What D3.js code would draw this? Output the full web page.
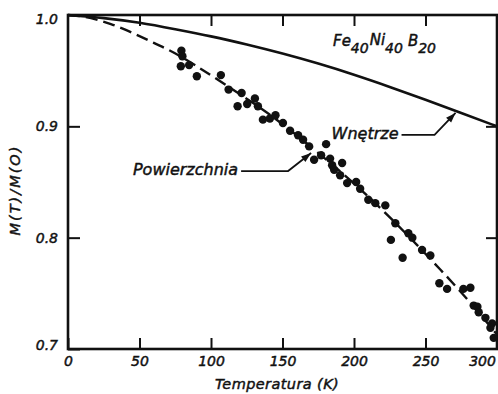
<!DOCTYPE html>
<html>
<head>
<meta charset="utf-8">
<script src="https://cdn.jsdelivr.net/npm/d3@7"></script>
<style>
  body { margin: 0; background: #fff; }
  text { font-family: "DejaVu Sans", sans-serif; font-style: oblique; fill: #111; stroke: #111; stroke-width: 0.45px; }
</style>
</head>
<body>
<div class="chart-container"></div>
<script>
const pointsT = [79.3, 80.0, 78.9, 84.7, 90.1, 106.9, 112.3, 121.4, 118.6, 125.3,
  130.7, 132.8, 136.3, 141.2, 145.1, 150.3, 155.3, 160.9, 164.4, 168.6,
  180.5, 172.1, 177.0, 183.3, 184.7, 191.7, 186.1, 190.3, 195.2, 201.5,
  204.3, 210.0, 214.9, 221.9, 228.9, 225.8, 238.0, 240.8, 247.6, 253.4,
  234.0, 259.7, 265.1, 276.5, 281.4, 283.7, 286.3, 287.2, 291.9, 296.6,
  295.4, 297.7];
const pointsM = [0.968, 0.963, 0.954, 0.955, 0.945, 0.946, 0.933, 0.930, 0.918, 0.920,
  0.925, 0.918, 0.906, 0.907, 0.910, 0.903, 0.896, 0.892, 0.888, 0.882,
  0.884, 0.870, 0.874, 0.871, 0.865, 0.867, 0.861, 0.856, 0.849, 0.850,
  0.844, 0.834, 0.831, 0.829, 0.813, 0.798, 0.804, 0.800, 0.789, 0.784,
  0.782, 0.759, 0.754, 0.754, 0.755, 0.739, 0.738, 0.733, 0.728, 0.723,
  0.719, 0.710];

// dashed curve "Powierzchnia"
const surfaceT = [0, 10, 20, 30, 40, 50, 60, 70, 80, 90, 100, 120, 140, 160, 180, 200, 220, 240, 260, 280, 300];
const surfaceM = [1.0, 0.999, 0.996, 0.992, 0.987, 0.981, 0.975, 0.969, 0.962, 0.954, 0.946,
  0.929, 0.912, 0.892, 0.871, 0.849, 0.825, 0.799, 0.772, 0.744, 0.713];

// solid curve "Wnetrze"
const bulkT = [0, 25, 50, 75, 100, 125, 150, 175, 200, 225, 250, 275, 300];
const bulkM = [1.0, 0.9975, 0.9933, 0.9872, 0.981, 0.9736, 0.9655, 0.9565, 0.9465, 0.9355, 0.924, 0.912, 0.900];

const xTicks = [0, 50, 100, 150, 200, 250, 300];
const yTicks = [0.7, 0.8, 0.9, 1.0];
const yTickLabels = ['0.7', '0.8', '0.9', '1.0'];

const margin = { top: 15, right: 1, bottom: 45, left: 68 };
const width = 498 - margin.left - margin.right;
const height = 394 - margin.top - margin.bottom;

const x = d3.scaleLinear().domain([0, 300]).range([0, width]);
const y = d3.scaleLinear().domain([0.7, 1.0]).range([height, 0]);

const svg = d3
  .select('.chart-container')
  .append('svg')
  .attr('width', 498)
  .attr('height', 394)
  .append('g')
  .attr('transform', `translate(${margin.left},${margin.top})`);

// axes, ticks pointing inward
const bottom = svg.append('g')
  .attr('transform', `translate(0,${height})`)
  .call(d3.axisBottom(x).tickValues(xTicks).tickSizeInner(-11).tickSizeOuter(0).tickPadding(7).tickFormat(d3.format('d')));
bottom.selectAll('text').filter((d) => d === 300).attr('dx', -15);

svg.append('g')
  .call(d3.axisTop(x).tickValues(xTicks.slice(1, -1)).tickSizeInner(-11).tickSizeOuter(0).tickFormat(''));

const left = svg.append('g')
  .call(d3.axisLeft(y).tickValues(yTicks).tickSizeInner(-12).tickSizeOuter(0).tickPadding(10)
    .tickFormat((d, i) => yTickLabels[i]));
left.selectAll('text').filter((d) => d === 1.0).attr('dy', '0.62em');
left.selectAll('text').filter((d) => d === 0.7).attr('dy', '0.05em');

svg.append('g')
  .attr('transform', `translate(${width},0)`)
  .call(d3.axisRight(y).tickValues([0.8, 0.9]).tickSizeInner(-11).tickSizeOuter(0).tickFormat(''));

svg.selectAll('.domain').remove();
svg.selectAll('.tick line').attr('stroke', '#111').attr('stroke-width', 2);
svg.selectAll('.tick text').attr('font-size', 14).attr('font-family', '"DejaVu Sans", sans-serif')
  .attr('font-style', 'oblique').attr('fill', '#111');

svg.append('rect')
  .attr('width', width)
  .attr('height', height)
  .attr('fill', 'none')
  .attr('stroke', '#111')
  .attr('stroke-width', 2.6);

// curves
const line = d3.line().x((d) => x(d[0])).y((d) => y(d[1])).curve(d3.curveBasis);

svg.append('path')
  .datum(bulkT.map((t, i) => [t, bulkM[i]]))
  .attr('d', line)
  .attr('fill', 'none')
  .attr('stroke', '#111')
  .attr('stroke-width', 2.6);

svg.append('path')
  .datum(surfaceT.map((t, i) => [t, surfaceM[i]]))
  .attr('d', line)
  .attr('fill', 'none')
  .attr('stroke', '#111')
  .attr('stroke-width', 2.4)
  .attr('stroke-dasharray', '12,6');

svg.selectAll('.dot')
  .data(pointsT.map((t, i) => [t, pointsM[i]]))
  .enter()
  .append('circle')
  .attr('class', 'dot')
  .attr('cx', (d) => x(d[0]))
  .attr('cy', (d) => y(d[1]))
  .attr('r', 4.2)
  .attr('fill', '#111');

// annotations with leader and arrow
function leader(tip, dxDiag, dyDiag, hLen, label) {
  const tx = x(tip[0]);
  const ty = y(tip[1]);
  const bx = tx - dxDiag;
  const by = ty + dyDiag;
  svg.append('path')
    .attr('d', `M${bx - hLen},${by}L${bx},${by}L${tx},${ty}`)
    .attr('fill', 'none')
    .attr('stroke', '#111')
    .attr('stroke-width', 1.8);
  const ang = Math.atan2(ty - by, tx - bx);
  const len = 10, half = 3.5;
  const p1 = [tx - len * Math.cos(ang) - half * Math.sin(ang), ty - len * Math.sin(ang) + half * Math.cos(ang)];
  const p2 = [tx - len * Math.cos(ang) + half * Math.sin(ang), ty - len * Math.sin(ang) - half * Math.cos(ang)];
  svg.append('path')
    .attr('d', `M${tx},${ty}L${p1[0]},${p1[1]}L${p2[0]},${p2[1]}Z`)
    .attr('fill', '#111');
  svg.append('text')
    .attr('x', bx - hLen - 3)
    .attr('y', by + 4)
    .attr('text-anchor', 'end')
    .attr('font-size', 16)
    .text(label);
}

leader([271, 0.912], 21, 22, 33, 'Wnętrze');
leader([170, 0.876], 23, 18, 47, 'Powierzchnia');

// composition label
const comp = svg.append('text')
  .attr('x', 265)
  .attr('y', 31)
  .attr('font-size', 15);
comp.append('tspan').text('Fe');
comp.append('tspan').attr('dy', 7).attr('font-size', 14).text('40');
comp.append('tspan').attr('dy', -8).attr('dx', 1).text('Ni');
comp.append('tspan').attr('dy', 8).attr('font-size', 14).text('40');
comp.append('tspan').attr('dy', -7).attr('dx', 5).text('B');
comp.append('tspan').attr('dy', 7).attr('font-size', 14).text('20');

// axis titles
svg.append('text')
  .attr('x', 209)
  .attr('y', height + 40)
  .attr('text-anchor', 'middle')
  .attr('font-size', 14.5)
  .attr('letter-spacing', 0.4)
  .text('Temperatura (K)');

svg.append('text')
  .attr('transform', `translate(${-48},${175}) rotate(-90)`)
  .attr('text-anchor', 'middle')
  .attr('font-size', 14.5)
  .attr('letter-spacing', 2)
  .text('M(T)/M(O)');
</script>
</body>
</html>
